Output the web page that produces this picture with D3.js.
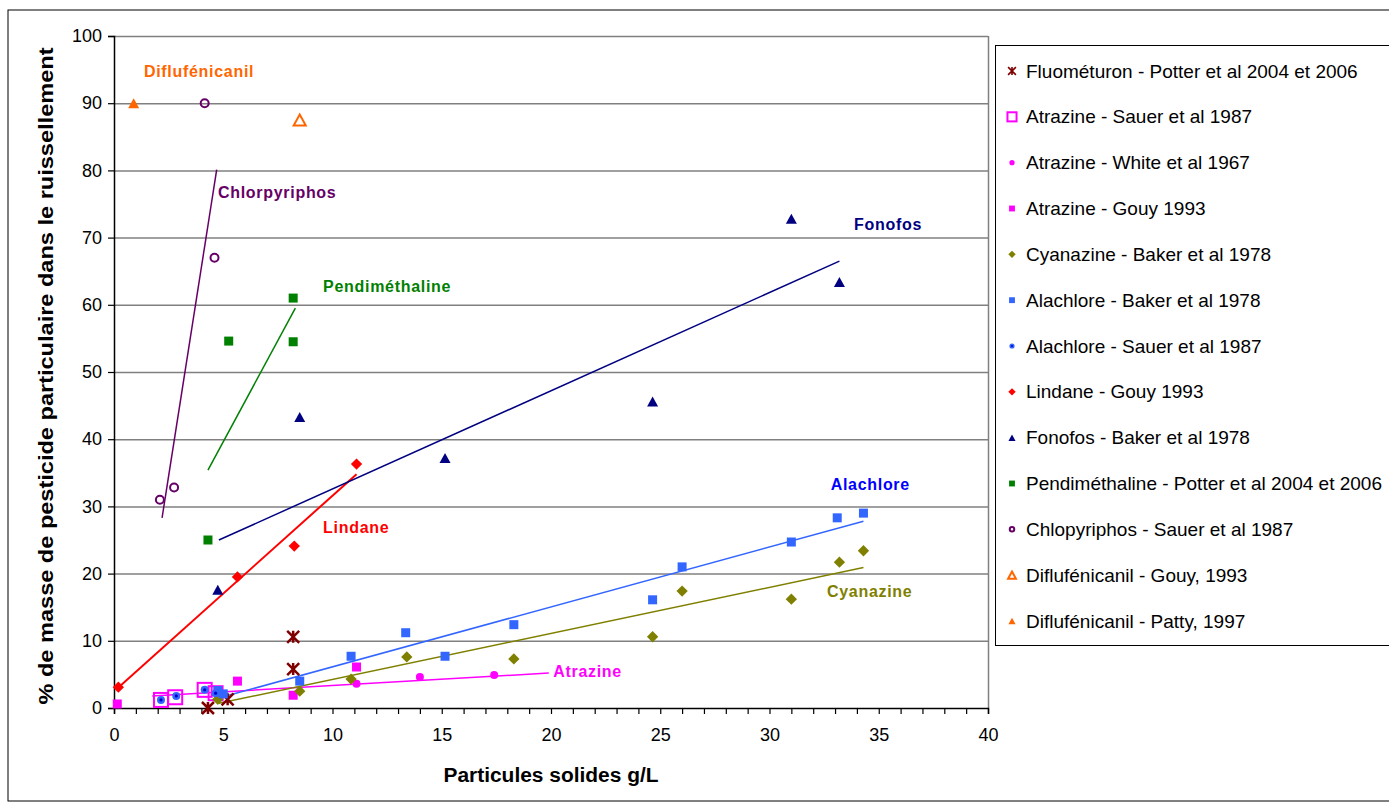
<!DOCTYPE html>
<html lang="fr">
<head>
<meta charset="UTF-8">
<script src="https://d3js.org/d3.v7.min.js"></script>
<style>
    body { margin: 0; background: #fff; }
    text { font-family: "Liberation Sans", Arial, sans-serif; }
</style>
<title>Pesticides particulaires</title>
</head>
<body>
<div class="canvas"></div>
<script>
    // --- data ---
    const fluoX = [8.2, 8.2, 4.3, 5.2];
    const fluoY = [10.6, 5.8, 0.0, 1.3];
    const atrSauerX = [2.15, 2.8, 4.15, 4.65];
    const atrSauerY = [1.2, 1.6, 2.7, 2.2];
    const atrWhiteX = [11.1, 14.0, 17.4];
    const atrWhiteY = [3.6, 4.6, 4.9];
    const atrGouyX = [0.15, 5.65, 8.2, 11.1];
    const atrGouyY = [0.6, 4.0, 1.9, 6.1];
    const cyanX = [4.75, 8.5, 10.85, 13.4, 18.3, 24.65, 26.0, 31.0, 33.2, 34.3];
    const cyanY = [1.3, 2.5, 4.3, 7.6, 7.3, 10.6, 17.4, 16.2, 21.7, 23.4];
    const alaBakerX = [4.75, 5.0, 8.5, 10.85, 13.35, 15.15, 18.3, 24.65, 26.0, 31.0, 33.1, 34.3];
    const alaBakerY = [2.6, 2.1, 4.0, 7.7, 11.2, 7.7, 12.4, 16.1, 21.0, 24.7, 28.3, 29.0];
    const alaSauerX = [2.15, 2.85, 4.15, 4.65];
    const alaSauerY = [1.2, 1.8, 2.7, 2.2];
    const lindX = [0.2, 5.65, 8.25, 11.1];
    const lindY = [3.1, 19.5, 24.1, 36.3];
    const fonoX = [4.75, 8.5, 15.15, 24.65, 31.0, 33.2];
    const fonoY = [17.6, 43.3, 37.2, 45.6, 72.8, 63.4];
    const pendiX = [4.3, 5.25, 8.2, 8.2];
    const pendiY = [25.0, 54.6, 61.0, 54.5];
    const chlorX = [2.1, 2.75, 4.6, 4.15];
    const chlorY = [31.0, 32.8, 67.0, 90.0];
    const diflGouyX = [8.5];
    const diflGouyY = [87.5];
    const diflPattyX = [0.9];
    const diflPattyY = [90.0];

    // trend lines (end points)
    const trendAtrX = [1.75, 19.9],  trendAtrY = [1.8, 5.2];
    const trendCyanX = [4.8, 34.3],  trendCyanY = [0.7, 20.9];
    const trendAlaX = [4.7, 34.3],   trendAlaY = [1.4, 27.8];
    const trendLindX = [0.15, 11.1], trendLindY = [2.9, 34.8];
    const trendFonoX = [4.8, 33.2],  trendFonoY = [25.0, 66.5];
    const trendPendiX = [4.3, 8.3],  trendPendiY = [35.4, 59.5];
    const trendChlorX = [2.2, 4.7],  trendChlorY = [28.3, 80.1];

    const xTicks = [0, 5, 10, 15, 20, 25, 30, 35, 40];
    const yTicks = [0, 10, 20, 30, 40, 50, 60, 70, 80, 90, 100];

    const legendNames = [
        'Fluométuron - Potter et al 2004 et 2006',
        'Atrazine - Sauer et al 1987',
        'Atrazine - White et al 1967',
        'Atrazine - Gouy 1993',
        'Cyanazine - Baker et al 1978',
        'Alachlore - Baker et al 1978',
        'Alachlore - Sauer et al 1987',
        'Lindane - Gouy 1993',
        'Fonofos - Baker et al 1978',
        'Pendiméthaline - Potter et al 2004 et 2006',
        'Chlopyriphos - Sauer et al 1987',
        'Diflufénicanil - Gouy, 1993',
        'Diflufénicanil - Patty, 1997'
    ];

    const labelNames = ['Diflufénicanil', 'Chlorpyriphos', 'Pendiméthaline', 'Fonofos',
                        'Lindane', 'Alachlore', 'Cyanazine', 'Atrazine'];
    const labelX = [1.37, 4.76, 9.57, 33.87, 9.57, 32.8, 32.63, 20.1];
    const labelY = [94.8, 76.8, 62.8, 72.0, 26.9, 33.3, 17.3, 5.5];

    // --- styles ---
    const series = [
        {x: fluoX, y: fluoY, shape: 'star', color: '#800000', fill: false},
        {x: atrSauerX, y: atrSauerY, shape: 'square', color: '#FF00FF', fill: false, size: 14},
        {x: atrWhiteX, y: atrWhiteY, shape: 'circle', color: '#FF00FF', fill: true, size: 8},
        {x: atrGouyX, y: atrGouyY, shape: 'square', color: '#FF00FF', fill: true, size: 9},
        {x: cyanX, y: cyanY, shape: 'diamond', color: '#808000', fill: true, size: 8},
        {x: alaBakerX, y: alaBakerY, shape: 'square', color: '#3366FF', fill: true, size: 9},
        {x: alaSauerX, y: alaSauerY, shape: 'dotcircle', color: '#3366FF', fill: true, size: 8},
        {x: lindX, y: lindY, shape: 'diamond', color: '#FF0000', fill: true, size: 8},
        {x: fonoX, y: fonoY, shape: 'triangle', color: '#000080', fill: true, size: 10},
        {x: pendiX, y: pendiY, shape: 'square', color: '#008000', fill: true, size: 9},
        {x: chlorX, y: chlorY, shape: 'circle', color: '#660066', fill: false, size: 10},
        {x: diflGouyX, y: diflGouyY, shape: 'triangle', color: '#FF6600', fill: false, size: 11},
        {x: diflPattyX, y: diflPattyY, shape: 'triangle', color: '#FF6600', fill: true, size: 10}
    ];
    const trends = [
        {x: trendAtrX, y: trendAtrY, color: '#FF00FF'},
        {x: trendCyanX, y: trendCyanY, color: '#808000'},
        {x: trendAlaX, y: trendAlaY, color: '#3366FF'},
        {x: trendLindX, y: trendLindY, color: '#FF0000', w: 2},
        {x: trendFonoX, y: trendFonoY, color: '#000080'},
        {x: trendPendiX, y: trendPendiY, color: '#008000'},
        {x: trendChlorX, y: trendChlorY, color: '#660066'}
    ];
    const labelColors = ['#FF6600', '#660066', '#008000', '#000080', '#FF0000', '#0000FF', '#808000', '#FF00FF'];

    const width = 1389;
    const height = 809;
    const [ml, mt, pw, ph] = [114, 36, 874, 672];

    const svg = d3.select('.canvas')
                  .append('svg')
                  .attr('width', width)
                  .attr('height', height);

    // outer frame
    svg.append('rect')
       .attr('x', 8).attr('y', 10)
       .attr('width', 1400).attr('height', 791)
       .attr('fill', 'none').attr('stroke', '#000').attr('stroke-width', 1);

    const x = d3.scaleLinear().domain([0, 40]).range([0, pw]);
    const y = d3.scaleLinear().domain([0, 100]).range([ph, 0]);

    const graph = svg.append('g').attr('transform', `translate(${ml},${mt})`);

    // gridlines
    graph.append('g')
         .selectAll('line')
         .data(yTicks.filter(d => d > 0))
         .enter().append('line')
         .attr('x1', 0).attr('x2', pw)
         .attr('y1', d => y(d) + 0.5).attr('y2', d => y(d) + 0.5)
         .attr('stroke', '#808080').attr('stroke-width', 1.5);
    graph.append('line')
         .attr('x1', pw + 0.5).attr('x2', pw + 0.5).attr('y1', 0).attr('y2', ph)
         .attr('stroke', '#808080').attr('stroke-width', 1.5);

    // axes
    const xAxis = d3.axisBottom(x).tickValues(d3.range(0, 41, 1)).tickSize(6)
                    .tickFormat(d => xTicks.includes(d) ? d : '');
    const yAxis = d3.axisLeft(y).tickValues(yTicks).tickSize(6);

    const xAxisG = graph.append('g').attr('transform', `translate(0,${ph})`).call(xAxis);
    const yAxisG = graph.append('g').call(yAxis);
    [xAxisG, yAxisG].forEach(g => {
        g.select('.domain').attr('stroke', '#000').attr('stroke-width', 1.5);
        g.selectAll('.tick line').attr('stroke', '#000').attr('stroke-width', 1.2);
        g.selectAll('text').attr('fill', '#000').style('font-size', '18px')
         .style('font-family', '"Liberation Sans", Arial, sans-serif');
    });
    xAxisG.selectAll('text').attr('dy', '1.05em').attr('y', 14);
    yAxisG.selectAll('text').attr('x', -12);

    // axis titles
    svg.append('text')
       .attr('x', 551).attr('y', 782)
       .attr('text-anchor', 'middle')
       .attr('textLength', 215).attr('lengthAdjust', 'spacingAndGlyphs')
       .style('font-size', '20px').style('font-weight', 'bold')
       .text('Particules solides g/L');
    svg.append('text')
       .attr('transform', 'translate(53,376) rotate(-90)')
       .attr('text-anchor', 'middle')
       .attr('textLength', 657).attr('lengthAdjust', 'spacingAndGlyphs')
       .style('font-size', '20px').style('font-weight', 'bold')
       .text('% de masse de pesticide particulaire dans le ruissellement');

    // trend lines
    const line = d3.line().x(d => x(d[0])).y(d => y(d[1]));
    graph.append('g')
         .selectAll('path')
         .data(trends)
         .enter().append('path')
         .attr('d', t => line(d3.zip(t.x, t.y)))
         .attr('fill', 'none')
         .attr('stroke', t => t.color)
         .attr('stroke-width', t => t.w || 1.5);

    // marker drawing
    function drawMarker(sel, s, scale) {
        const k = scale || 1;
        const sz = (s.size || 10) * k;
        if (s.shape === 'star') {
            const r = 6 * k;
            sel.append('path')
               .attr('d', `M${-r},${-r}L${r},${r}M${-r},${r}L${r},${-r}M0,${-r}L0,${r}`)
               .attr('stroke', s.color).attr('stroke-width', 2.5 * k).attr('fill', 'none');
        } else if (s.shape === 'square') {
            sel.append('rect')
               .attr('x', -sz / 2).attr('y', -sz / 2).attr('width', sz).attr('height', sz)
               .attr('fill', s.fill ? s.color : 'none')
               .attr('stroke', s.color).attr('stroke-width', s.fill ? 0 : 2);
        } else if (s.shape === 'diamond') {
            sel.append('rect')
               .attr('x', -sz / 2).attr('y', -sz / 2).attr('width', sz).attr('height', sz)
               .attr('transform', 'rotate(45)')
               .attr('fill', s.color);
        } else if (s.shape === 'circle') {
            sel.append('circle')
               .attr('r', s.fill ? sz / 2 : sz / 2 - 1)
               .attr('fill', s.fill ? s.color : 'none')
               .attr('stroke', s.color).attr('stroke-width', s.fill ? 0 : 2);
        } else if (s.shape === 'dotcircle') {
            sel.append('circle').attr('r', sz / 2).attr('fill', s.color);
            sel.append('circle').attr('r', sz / 5).attr('fill', '#0000CC');
        } else if (s.shape === 'triangle') {
            const h = sz, w = sz * 1.1;
            sel.append('path')
               .attr('d', `M0,${-h / 2}L${w / 2},${h / 2}L${-w / 2},${h / 2}Z`)
               .attr('fill', s.fill ? s.color : '#fff')
               .attr('stroke', s.color).attr('stroke-width', s.fill ? 0 : 2)
               .attr('stroke-linejoin', 'miter');
        }
    }

    series.forEach(s => {
        graph.append('g')
             .selectAll('g')
             .data(d3.zip(s.x, s.y))
             .enter().append('g')
             .attr('transform', d => `translate(${x(d[0])},${y(d[1])})`)
             .each(function () { drawMarker(d3.select(this), s); });
    });

    // series labels inside the plot
    graph.append('g')
         .selectAll('text')
         .data(labelNames)
         .enter().append('text')
         .attr('x', (d, i) => x(labelX[i]))
         .attr('y', (d, i) => y(labelY[i]))
         .attr('dy', '0.35em')
         .attr('fill', (d, i) => labelColors[i])
         .style('font-size', '16px').style('font-weight', 'bold')
         .style('letter-spacing', '0.7px')
         .text(d => d);

    // legend
    const legend = svg.append('g');
    legend.append('rect')
          .attr('x', 995.5).attr('y', 45.5).attr('width', 420).attr('height', 600)
          .attr('fill', '#fff').attr('stroke', '#000').attr('stroke-width', 1);
    const ly = d3.scaleLinear().domain([0, legendNames.length - 1]).range([71, 621]);
    legendNames.forEach((name, i) => {
        const gi = legend.append('g').attr('transform', `translate(0,${ly(i)})`);
        const mk = gi.append('g').attr('transform', 'translate(1012,0)');
        drawMarker(mk, series[i], 0.65);
        gi.append('text')
          .attr('x', 1026).attr('dy', '0.35em')
          .style('font-size', '19px')
          .text(name);
    });
</script>
</body>
</html>
